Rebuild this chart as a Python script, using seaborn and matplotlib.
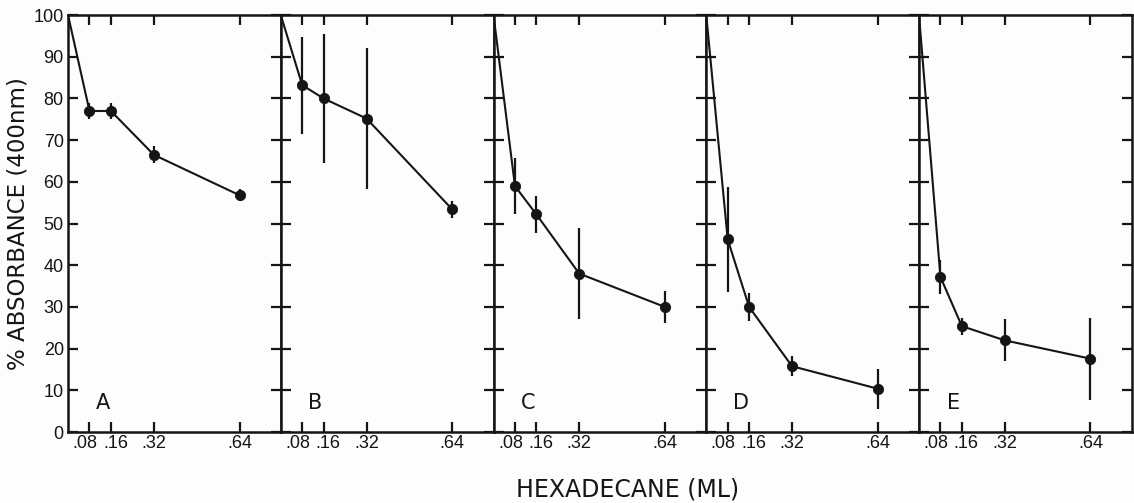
import matplotlib
matplotlib.use("Agg")
import matplotlib.pyplot as plt
import matplotlib.transforms as mtransforms
import seaborn as sns
import pandas as pd
import numpy as np

# ---- data ----
panels = ["A", "B", "C", "D", "E"]
hexadecane_ml = [0.0, 0.08, 0.16, 0.32, 0.64]
absorb_A = [100, 77.0, 77.0, 66.5, 56.8]
absorb_B = [100, 83.2, 80.0, 75.2, 53.4]
absorb_C = [100, 59.0, 52.2, 38.0, 30.0]
absorb_D = [100, 46.2, 30.0, 15.8, 10.4]
absorb_E = [100, 37.2, 25.4, 22.0, 17.6]
err_A = [0, 2.0, 2.0, 2.0, 1.5]
err_B = [0, 11.6, 15.5, 17.0, 2.0]
err_C = [0, 6.8, 4.4, 10.9, 3.9]
err_D = [0, 12.5, 3.4, 2.4, 4.8]
err_E = [0, 4.0, 2.0, 5.0, 9.8]
x_ticks = [0.08, 0.16, 0.32, 0.64]
x_tick_labels = [".08", ".16", ".32", ".64"]
y_ticks = list(range(0, 101, 10))

values = [absorb_A, absorb_B, absorb_C, absorb_D, absorb_E]
errors = [err_A, err_B, err_C, err_D, err_E]

sns.set_theme(style="white")
plt.rcParams["font.family"] = ["DejaVu Sans"]
bg = "#fefdfb"
ink = "#151515"
tick_family = ["Liberation Sans", "DejaVu Sans"]
tick_size = 13

fig, axes = plt.subplots(1, 5, sharey=True, figsize=(11.34, 5.03), dpi=100,
                         gridspec_kw={"wspace": 0})
fig.patch.set_facecolor(bg)
fig.subplots_adjust(left=0.06, right=0.998, top=0.970, bottom=0.141)

label_shifts = [-4.5, 4.5, 0, 0]  # pixels, to keep .08 and .16 apart

for ax, name, vals, errs in zip(axes, panels, values, errors):
    ax.set_facecolor(bg)
    df = pd.DataFrame({"x": hexadecane_ml, "y": vals, "e": errs})
    ax.errorbar(df["x"], df["y"], yerr=df["e"], fmt="none", ecolor=ink,
                elinewidth=1.6, capsize=0, zorder=2)
    sns.lineplot(data=df, x="x", y="y", ax=ax, color=ink, linewidth=1.5,
                 zorder=3)
    sns.scatterplot(data=df[df["x"] > 0], x="x", y="y", ax=ax, color=ink,
                    s=55, edgecolor=ink, zorder=4)
    ax.set_xlim(0, 0.794)
    ax.set_ylim(0, 100)
    ax.set_xticks(x_ticks)
    ax.set_xticklabels([])
    for tx, lab, dx in zip(x_ticks, x_tick_labels, label_shifts):
        tr = mtransforms.offset_copy(ax.get_xaxis_transform(), fig=fig,
                                     x=dx, y=-3, units="dots")
        ax.text(tx, 0, lab, transform=tr, ha="center", va="top",
                fontsize=tick_size, family=tick_family, color=ink, clip_on=False)
    ax.set_yticks(y_ticks)
    ax.tick_params(axis="both", direction="in", top=True, right=True,
                   bottom=True, left=True, length=7, width=1.6, color=ink,
                   pad=3, labelcolor=ink)
    for sp in ax.spines.values():
        sp.set_visible(True)
        sp.set_color(ink)
        sp.set_linewidth(1.8)
    ax.set_xlabel("")
    ax.set_ylabel("")
    ax.text(0.13, 7, name, fontsize=15, color=ink, ha="center", va="center",
            family=["DejaVu Sans"])
    ax.grid(False)

axes[0].set_yticklabels([str(v) for v in y_ticks],
                        fontdict={"family": tick_family, "size": tick_size})
axes[0].tick_params(axis="y", pad=3)
axes[0].set_ylabel("% ABSORBANCE (400nm)", fontsize=16.5, color=ink, labelpad=3)
fig.text(0.553, 0.026, "HEXADECANE (ML)", fontsize=17, color=ink,
         ha="center", va="center")

fig.savefig("out.png", dpi=100, facecolor=bg)
